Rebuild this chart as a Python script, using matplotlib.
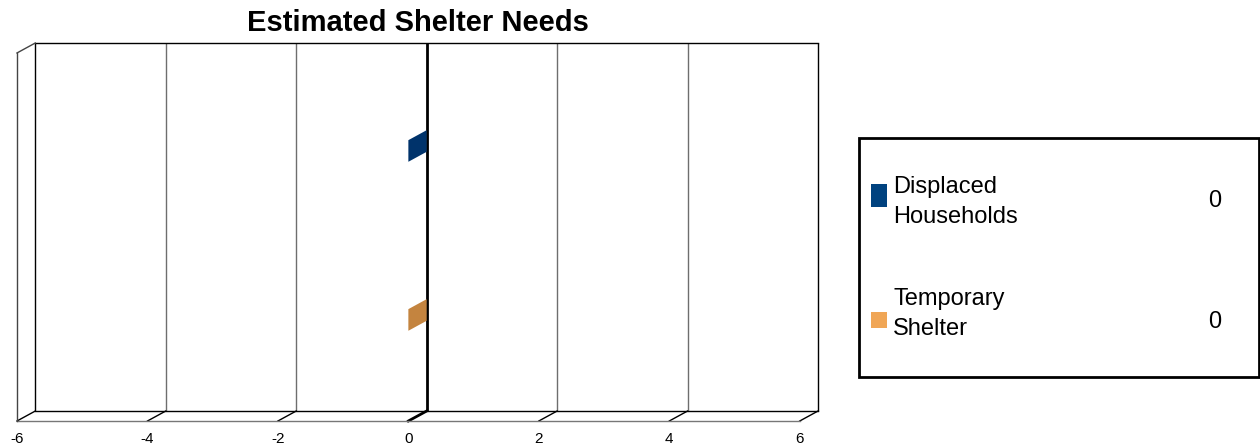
import matplotlib.pyplot as plt
from matplotlib.patches import Rectangle

# ── Data ─────────────────────────────────────────────────
categories = ["Displaced Households", "Temporary Shelter"]
legend_labels = ["Displaced\nHouseholds", "Temporary\nShelter"]
values = [0, 0]
x_ticks = [-6, -4, -2, 0, 2, 4, 6]

face_colors = ["#00336b", "#c4843f"]
legend_colors = ["#00427f", "#f0a656"]

# ── Figure / geometry (pixel-based layout) ───────────────
W, H = 1260, 447
fig = plt.figure(figsize=(W / 100, H / 100), dpi=100)
fig.patch.set_facecolor("white")
plt.rcParams["font.family"] = ["Liberation Sans", "DejaVu Sans"]


def fx(px):
    return px / W


def fy(py):
    return 1 - py / H


ax = fig.add_axes([fx(17), fy(421), (818 - 17) / W, (421 - 43) / H])
ax.set_facecolor("none")

dx = 0.28     # depth offset in value units
dy = 0.059    # depth offset in category units
front_top, front_bot = -0.580, 1.598
back_top, back_bot = front_top - dy, front_bot - dy
half = 0.064

ax.set_xlim(x_ticks[0], x_ticks[-1] + dx)
ax.set_ylim(front_bot, back_top)

# back wall grid
for t in x_ticks:
    if t == 0:
        col, lw = "black", 2.0
    elif t in (x_ticks[0], x_ticks[-1]):
        col, lw = "black", 1.0
    else:
        col, lw = "#6e6e6e", 1.0
    ax.plot([t + dx, t + dx], [back_top, back_bot], color=col, lw=lw,
            solid_capstyle="butt", clip_on=False)
    # floor diagonals
    ax.plot([t, t + dx], [front_bot, back_bot], color="black",
            lw=lw if t == 0 else 1.0, clip_on=False)

ax.plot([x_ticks[0] + dx, x_ticks[-1] + dx], [back_top, back_top], color="black",
        lw=1.0, clip_on=False)
ax.plot([x_ticks[0] + dx, x_ticks[-1] + dx], [back_bot, back_bot], color="black",
        lw=1.0, clip_on=False)
ax.plot([x_ticks[0], x_ticks[-1]], [front_bot, front_bot], color="#777777",
        lw=1.0, clip_on=False)
# left side wall
ax.plot([x_ticks[0], x_ticks[0]], [front_top, front_bot], color="#444444",
        lw=1.0, clip_on=False)
ax.plot([x_ticks[0], x_ticks[0] + dx], [front_top, back_top], color="#444444",
        lw=1.0, clip_on=False)

# bars (zero-length 3D bars show only their end face)
for i, (v, c) in enumerate(zip(values, face_colors)):
    xs = [v, v, v + dx, v + dx]
    ys = [i - half, i + half, i + half - dy, i - half - dy]
    ax.fill(xs, ys, color=c, lw=0, zorder=3)

ax.set_xticks(x_ticks)
ax.set_xticklabels([str(t) for t in x_ticks], fontsize=11)
ax.tick_params(axis="x", length=0, pad=8)
ax.set_yticks([])
for s in ax.spines.values():
    s.set_visible(False)

# ── Title ─────────────────────────────────────────────────
fig.text(fx(418), fy(23), "Estimated Shelter Needs", ha="center", va="center",
         fontsize=21, fontweight="bold")

# ── Legend box ────────────────────────────────────────────
fig.patches.append(Rectangle((fx(859), fy(377)), (1259 - 859) / W, (377 - 138) / H,
                             transform=fig.transFigure, fill=False,
                             edgecolor="black", lw=2))

marker_boxes = [(184, 207), (312, 328)]
text_y = [202, 314]
value_y = [201, 322]
for lab, val, col, (m0, m1), ty, vy in zip(legend_labels, values, legend_colors,
                                           marker_boxes, text_y, value_y):
    fig.patches.append(Rectangle((fx(871), fy(m1)), 16 / W, (m1 - m0) / H,
                                 transform=fig.transFigure, color=col, lw=0))
    fig.text(fx(893), fy(ty), lab, ha="left", va="center", fontsize=17,
             linespacing=1.45)
    fig.text(fx(1215), fy(vy), str(val), ha="center", va="center", fontsize=17)

plt.savefig("out.png", dpi=100, facecolor="white")
